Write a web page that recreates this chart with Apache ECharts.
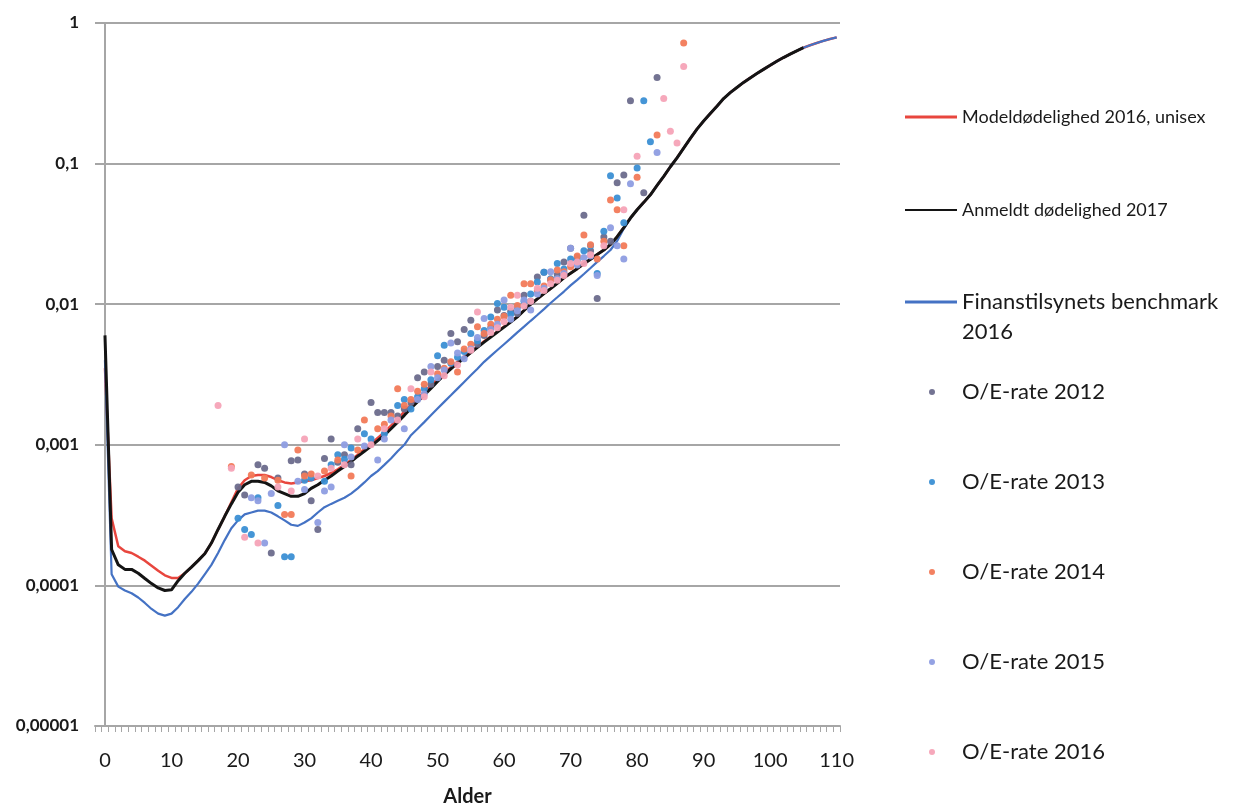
<!DOCTYPE html>
<html>
<head>
<meta charset="utf-8">
<script src="https://cdn.jsdelivr.net/npm/echarts@6/dist/echarts.min.js"></script>
<style>
html,body{margin:0;padding:0;background:#fff;}
#chart{width:1233px;height:807px;}
</style>
</head>
<body>
<div id="chart"></div>
<script>
// ---- Data ----
const xLabels = [0, 10, 20, 30, 40, 50, 60, 70, 80, 90, 100, 110];
const yLabels = ['0,00001', '0,0001', '0,001', '0,01', '0,1', '1'];

const seriesNames = [
  'Modeldødelighed 2016, unisex',
  'Anmeldt dødelighed 2017',
  'Finanstilsynets benchmark 2016',
  'O/E-rate 2012', 'O/E-rate 2013', 'O/E-rate 2014', 'O/E-rate 2015', 'O/E-rate 2016'
];

// Model mortality 2016, unisex (ages 0..110)
const modelVals = [
  0.0035, 0.0003, 0.00019, 0.000175, 0.00017, 0.00016, 0.00015, 0.000138, 0.000127, 0.000118,
  0.000113, 0.000113, 0.000122, 0.000135, 0.00015, 0.000168, 0.0002, 0.00025, 0.00031, 0.00039,
  0.00049, 0.00056, 0.0006, 0.00061, 0.00061, 0.00059, 0.00056, 0.00054, 0.00053, 0.00054,
  0.00055, 0.00056, 0.00058, 0.0006, 0.00063, 0.00067, 0.00072, 0.00078, 0.00085, 0.00093,
  0.00102, 0.00112, 0.00123, 0.00137, 0.00153, 0.00172, 0.00193, 0.00215, 0.00238, 0.00264,
  0.00293, 0.00325, 0.00357, 0.0039, 0.00424, 0.0046, 0.005, 0.00545, 0.0059, 0.0064,
  0.00693, 0.0075, 0.00818, 0.00905, 0.01, 0.0109, 0.0119, 0.0129, 0.0141, 0.0154,
  0.0166, 0.0179, 0.0194, 0.0209, 0.0226, 0.0243, 0.0266, 0.0302, 0.0351, 0.041,
  0.047, 0.053, 0.060, 0.070, 0.081, 0.095, 0.110, 0.129, 0.151, 0.176,
  0.201, 0.227, 0.256, 0.290, 0.320, 0.348, 0.378, 0.407, 0.437, 0.468,
  0.50, 0.535, 0.568, 0.60, 0.634, 0.667, 0.695, 0.721, 0.746, 0.769,
  0.79
];

// Reported mortality 2017 (ages 0..105)
const reportedVals = [
  0.006, 0.00018, 0.00014, 0.00013, 0.00013, 0.000122, 0.000112, 0.000103, 0.000096, 0.000092,
  0.000093, 0.000108, 0.000122, 0.000135, 0.00015, 0.000168, 0.0002, 0.00025, 0.00031, 0.00038,
  0.00046, 0.00052, 0.00055, 0.00055, 0.00054, 0.00051, 0.00047, 0.00045, 0.00043, 0.00043,
  0.00045, 0.00049, 0.00052, 0.00056, 0.0006, 0.00065, 0.0007, 0.00076, 0.00083, 0.0009,
  0.00098, 0.00107, 0.00117, 0.0013, 0.00145, 0.00162, 0.00182, 0.00203, 0.00226, 0.00252,
  0.00282, 0.00314, 0.00347, 0.0038, 0.00414, 0.00452, 0.00493, 0.00537, 0.00583, 0.00634,
  0.00687, 0.00746, 0.00813, 0.00902, 0.01, 0.0109, 0.0119, 0.0129, 0.0141, 0.0154,
  0.0166, 0.0179, 0.0194, 0.0209, 0.0226, 0.0243, 0.0266, 0.0302, 0.0351, 0.041,
  0.047, 0.053, 0.060, 0.070, 0.081, 0.095, 0.110, 0.129, 0.151, 0.176,
  0.201, 0.227, 0.256, 0.290, 0.320, 0.348, 0.378, 0.407, 0.437, 0.468,
  0.50, 0.535, 0.568, 0.60, 0.634, 0.667
];

// Finanstilsynets benchmark 2016 (ages 0..110)
const benchmarkVals = [
  0.004, 0.00012, 0.000098, 0.000092, 0.000088, 0.000082, 0.000075, 0.000068, 0.000063, 0.000061,
  0.000063, 0.00007, 0.00008, 0.00009, 0.000103, 0.00012, 0.00014, 0.00017, 0.00021, 0.000255,
  0.00029, 0.00032, 0.00033, 0.00034, 0.00034, 0.00033, 0.00031, 0.00029, 0.00027, 0.000265,
  0.00028, 0.0003, 0.00033, 0.00036, 0.00038, 0.0004, 0.00042, 0.00045, 0.00049, 0.00054,
  0.0006, 0.00065, 0.00072, 0.0008, 0.0009, 0.001, 0.00117, 0.0013, 0.00145, 0.00162,
  0.00181, 0.00202, 0.00225, 0.00251, 0.0028, 0.00312, 0.00347, 0.00389, 0.00429, 0.00472,
  0.00519, 0.00571, 0.00631, 0.00692, 0.00762, 0.00838, 0.00923, 0.0102, 0.0112, 0.0123,
  0.0136, 0.0149, 0.0164, 0.0181, 0.02, 0.022, 0.0243, 0.0282, 0.0345, 0.041,
  0.047, 0.053, 0.060, 0.070, 0.081, 0.095, 0.110, 0.129, 0.151, 0.176,
  0.201, 0.227, 0.256, 0.290, 0.320, 0.348, 0.378, 0.407, 0.437, 0.468,
  0.50, 0.535, 0.568, 0.60, 0.634, 0.667, 0.695, 0.721, 0.746, 0.769,
  0.79
];

// O/E rates: [age, rate]
const oe2012 = [
  [20,0.0005],[21,0.00044],[23,0.00072],[24,0.00068],[25,0.00017],[26,0.00058],[28,0.00077],[29,0.00078],
  [30,0.00062],[31,0.0004],[32,0.00025],[33,0.0008],[34,0.0011],[35,0.00075],[36,0.00085],[37,0.00072],
  [38,0.0013],[40,0.002],[41,0.0017],[42,0.0017],[43,0.0017],[44,0.0016],[45,0.0018],[46,0.002],
  [47,0.003],[48,0.0033],[49,0.0027],[50,0.0036],[51,0.004],[52,0.0062],[53,0.0054],[54,0.0066],
  [55,0.0077],[56,0.0052],[57,0.006],[58,0.0068],[59,0.0091],[60,0.0083],[61,0.0089],[62,0.0086],
  [63,0.0116],[64,0.0105],[65,0.0156],[66,0.0169],[67,0.015],[68,0.0162],[69,0.02],[70,0.025],
  [71,0.0216],[72,0.043],[73,0.024],[74,0.011],[75,0.03],[76,0.028],[77,0.073],[78,0.083],
  [79,0.28],[81,0.062],[83,0.41]
];
const oe2013 = [
  [20,0.0003],[21,0.00025],[22,0.00023],[23,0.00042],[26,0.00037],[27,0.00016],[28,0.00016],[30,0.00056],
  [31,0.00058],[33,0.00055],[34,0.00072],[35,0.00085],[36,0.00079],[37,0.00095],[39,0.0012],[40,0.0011],
  [42,0.0012],[44,0.0019],[45,0.0021],[46,0.0018],[47,0.0022],[48,0.0025],[49,0.0029],[50,0.0043],
  [51,0.0051],[52,0.0038],[53,0.0042],[54,0.0046],[55,0.0062],[56,0.0055],[57,0.0065],[58,0.0081],
  [59,0.0101],[60,0.0095],[61,0.0085],[62,0.0095],[63,0.0105],[64,0.0118],[65,0.0144],[66,0.0169],
  [67,0.0152],[68,0.0195],[69,0.0178],[70,0.021],[71,0.0205],[72,0.024],[73,0.026],[74,0.0165],
  [75,0.033],[76,0.082],[77,0.057],[78,0.038],[80,0.093],[81,0.28],[82,0.143]
];
const oe2014 = [
  [19,0.0007],[22,0.00061],[24,0.00058],[26,0.00056],[27,0.00032],[28,0.00032],[29,0.00092],[30,0.0006],
  [31,0.00062],[33,0.00065],[35,0.00078],[37,0.0006],[38,0.00092],[39,0.0015],[41,0.0013],[42,0.0014],
  [43,0.0016],[44,0.0025],[45,0.0019],[46,0.0021],[47,0.0024],[48,0.0027],[50,0.0032],[51,0.0035],
  [52,0.0039],[53,0.0033],[54,0.0048],[55,0.0052],[56,0.0069],[57,0.0062],[58,0.0072],[59,0.0078],
  [60,0.0082],[61,0.0116],[62,0.0098],[63,0.014],[64,0.014],[65,0.0125],[66,0.0135],[67,0.0149],
  [68,0.0175],[69,0.017],[70,0.0185],[71,0.022],[72,0.031],[73,0.0265],[74,0.021],[75,0.028],
  [76,0.055],[77,0.047],[78,0.026],[80,0.08],[83,0.16],[87,0.72]
];
const oe2015 = [
  [22,0.00042],[23,0.0004],[24,0.0002],[25,0.00045],[27,0.001],[29,0.00055],[30,0.00048],[32,0.00028],
  [33,0.00047],[34,0.0005],[36,0.001],[37,0.00082],[39,0.00098],[41,0.00078],[42,0.0011],[43,0.0015],
  [45,0.0013],[47,0.0021],[48,0.0023],[49,0.0036],[50,0.003],[51,0.0034],[52,0.0053],[53,0.0045],
  [54,0.0041],[55,0.0048],[56,0.0058],[57,0.0079],[58,0.0066],[59,0.0072],[60,0.0107],[61,0.0078],
  [62,0.009],[63,0.0107],[64,0.0091],[65,0.0118],[66,0.013],[67,0.017],[68,0.0152],[69,0.0165],
  [70,0.025],[71,0.019],[72,0.0215],[73,0.022],[74,0.016],[76,0.035],[77,0.026],[78,0.021],
  [79,0.072],[83,0.12]
];
const oe2016 = [
  [17,0.0019],[19,0.00068],[21,0.00022],[23,0.0002],[26,0.0005],[28,0.00047],[30,0.0011],[32,0.0006],
  [34,0.00068],[36,0.00072],[38,0.0011],[40,0.001],[42,0.0013],[44,0.0015],[46,0.0025],[48,0.0022],
  [49,0.0033],[51,0.0031],[53,0.0037],[55,0.0047],[56,0.0088],[58,0.0063],[59,0.0068],[60,0.0075],
  [61,0.0095],[62,0.0116],[63,0.0097],[64,0.0105],[65,0.013],[66,0.0125],[67,0.014],[68,0.0148],
  [69,0.016],[70,0.0195],[71,0.02],[72,0.0195],[73,0.0225],[75,0.026],[78,0.047],[80,0.113],
  [84,0.29],[85,0.17],[86,0.14],[87,0.49]
];

// ---- Build ----
const toPairs = arr => arr.map((v, i) => [i, v]);
const xTicks = [];
for (let k = 0; k <= 112; k++) xTicks.push(-1.5 + k);

const FONT = 'Lato';
const lineColors = ['#e8463e', '#141414', '#4472c4'];
const dotColors = ['#6c6c8c', '#3b8fd4', '#f27a58', '#8e9de2', '#f5a3b7'];
const oeData = [oe2012, oe2013, oe2014, oe2015, oe2016];

const series = [
  {name: seriesNames[0], type: 'line', data: toPairs(modelVals), symbol: 'none', z: 2,
   lineStyle: {color: lineColors[0], width: 2.5}, itemStyle: {color: lineColors[0]}},
  {name: seriesNames[1], type: 'line', data: toPairs(reportedVals), symbol: 'none', z: 4,
   lineStyle: {color: lineColors[1], width: 3}, itemStyle: {color: lineColors[1]}},
  {name: seriesNames[2], type: 'line', data: toPairs(benchmarkVals), symbol: 'none', z: 3,
   lineStyle: {color: lineColors[2], width: 2.2}, itemStyle: {color: lineColors[2]}}
];
oeData.forEach((d, i) => {
  series.push({name: seriesNames[3 + i], type: 'scatter', data: d, symbol: 'circle', symbolSize: 7, z: 5,
    itemStyle: {color: dotColors[i], opacity: 0.95}});
});

const legendY = [117, 210, 302, 392, 482, 572, 662, 752];
const legends = [];
// line legends
legends.push({
  left: 905, top: legendY[0] - 12, padding: 0, itemWidth: 52, itemHeight: 3, icon: 'rect',
  selectedMode: false, data: [seriesNames[0]],
  textStyle: {fontFamily: FONT, fontSize: 18, color: '#1a1a1a', lineHeight: 24}
});
legends.push({
  left: 905, top: legendY[1] - 12, padding: 0, itemWidth: 52, itemHeight: 2, icon: 'rect',
  selectedMode: false, data: [seriesNames[1]],
  textStyle: {fontFamily: FONT, fontSize: 18, color: '#1a1a1a', lineHeight: 24}
});
legends.push({
  left: 905, top: legendY[2] - 15, padding: 0, itemWidth: 52, itemHeight: 33,
  icon: 'path://M0,0H52V3H0Z M0,32H0.01V33H0Z',
  selectedMode: false, data: [seriesNames[2]],
  formatter: 'Finanstilsynets benchmark\n2016',
  textStyle: {fontFamily: FONT, fontSize: 22, color: '#1a1a1a', lineHeight: 30}
});
for (let i = 3; i < 8; i++) {
  legends.push({
    left: 929, top: legendY[i] - 12, padding: 0,
    itemWidth: 6, itemHeight: 6, icon: 'circle', selectedMode: false,
    data: [seriesNames[i]],
    textStyle: {fontFamily: FONT, fontSize: 22, color: '#1a1a1a', lineHeight: 24, padding: [0, 0, 0, 22]}
  });
}

const option = {
  animation: false,
  backgroundColor: '#ffffff',
  grid: {left: 95, top: 23, width: 745, height: 703, containLabel: false, outerBoundsMode: 'none'},
  legend: legends,
  xAxis: {
    type: 'value', min: -1.5, max: 110.5,
    name: 'Alder', nameLocation: 'middle', nameGap: 61,
    nameTextStyle: {fontFamily: FONT, fontSize: 20, fontWeight: 'bold', color: '#1a1a1a'},
    axisLine: {show: true, lineStyle: {color: '#a6a6a6', width: 2}},
    axisTick: {show: true, customValues: xTicks, length: 6, lineStyle: {color: '#a6a6a6', width: 1}},
    axisLabel: {customValues: xLabels, margin: 25, fontFamily: FONT, fontSize: 20, color: '#1a1a1a'},
    splitLine: {show: false}
  },
  yAxis: {
    type: 'log', logBase: 10, min: 0.00001, max: 1,
    axisLine: {show: true, lineStyle: {color: '#a6a6a6', width: 2}},
    axisTick: {show: true, length: 6, lineStyle: {color: '#a6a6a6'}},
    axisLabel: {
      margin: 16, fontFamily: FONT, fontSize: 17, fontWeight: 'bold', color: '#1a1a1a',
      formatter: v => yLabels[Math.round(Math.log10(v)) + 5]
    },
    splitLine: {show: true, lineStyle: {color: '#a6a6a6', width: 2}}
  },
  series: series
};

const chart = echarts.init(document.getElementById('chart'));
chart.setOption(option);
</script>
</body>
</html>
